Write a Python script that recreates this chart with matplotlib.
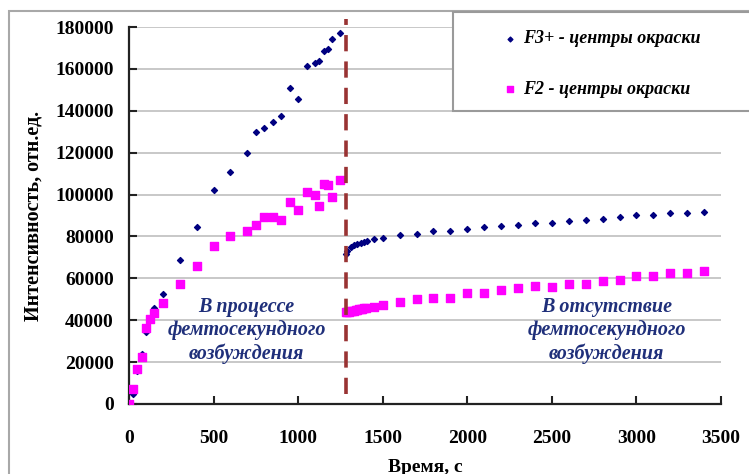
import numpy as np
import matplotlib.pyplot as plt
from matplotlib.patches import Rectangle
from matplotlib.ticker import MultipleLocator

plt.rcParams['font.family'] = ['Liberation Serif', 'DejaVu Serif']

# F3+ центры окраски: во время возбуждения и после
t_f3 = [25, 50, 75, 100, 150, 200, 300, 400, 500, 600, 700, 750, 800, 850, 900,
        950, 1000, 1050, 1100, 1125, 1150, 1175, 1200, 1250,
        1280, 1290, 1310, 1330, 1350, 1370, 1390, 1410, 1450, 1500,
        1600, 1700, 1800, 1900, 2000, 2100, 2200, 2300, 2400, 2500,
        2600, 2700, 2800, 2900, 3000, 3100, 3200, 3300, 3400]
i_f3 = [4650, 15600, 23800, 34200, 46000, 52400, 68600, 84500, 102000, 110800,
        119800, 130100, 132000, 134800, 137500, 151000, 145500, 161300, 162900,
        163700, 168500, 169300, 174400, 177000,
        71800, 73000, 75100, 75900, 76600, 77100, 77400, 77800, 78700, 79300,
        80700, 81400, 82400, 82600, 83600, 84400, 85000, 85700, 86200, 86500,
        87300, 87800, 88400, 89200, 90200, 90200, 91000, 91300, 91600]

# F2 центры окраски
t_f2 = [0, 25, 50, 75, 100, 125, 150, 200, 300, 400, 500, 600, 700, 750, 800,
        850, 900, 950, 1000, 1050, 1100, 1125, 1150, 1175, 1200, 1250,
        1280, 1290, 1300, 1310, 1320, 1330, 1340, 1350, 1360, 1370, 1380, 1390,
        1400, 1450, 1500,
        1600, 1700, 1800, 1900, 2000, 2100, 2200, 2300, 2400, 2500,
        2600, 2700, 2800, 2900, 3000, 3100, 3200, 3300, 3400]
i_f2 = [0, 7000, 16800, 22500, 36100, 40600, 43300, 48300, 57200, 65700, 75600,
        80300, 82800, 85700, 89200, 89200, 87800, 96400, 92400, 101300, 99800,
        94500, 105200, 104600, 99000, 106800,
        43800, 43900, 44000, 44200, 44400, 44600, 44800, 45000, 45200, 45400,
        45500, 45700, 45900, 46400, 47400,
        48600, 49900, 50800, 50800, 52800, 52800, 54500, 55300, 56300, 55800,
        57400, 57400, 58700, 59200, 61200, 60900, 62500, 62500, 63300]

t_switch = 1280  # момент выключения лазера

fig = plt.figure(figsize=(7.49, 4.74), dpi=100)
ax = fig.add_axes([129 / 749, 1 - 404 / 474, (721 - 129) / 749, (404 - 27) / 474])

ax.scatter(t_f3, i_f3, marker='D', s=9, color='#000080', zorder=3,
           label='F3+ - центры окраски')
ax.scatter(t_f2, i_f2, marker='s', s=30, color='#FF00FF', zorder=3,
           label='F2 - центры окраски')

ax.plot([t_switch, t_switch], [5000, 184000], color='#993333', lw=2.6,
        dashes=(4.5, 2.8), clip_on=False, zorder=4)

ax.set_xlim(0, 3500)
ax.set_ylim(0, 180000)
ax.xaxis.set_major_locator(MultipleLocator(500))
ax.yaxis.set_major_locator(MultipleLocator(20000))
ax.grid(axis='y', color='#C8C8C8', lw=1.4)
ax.set_axisbelow(True)
for s in ['top', 'right']:
    ax.spines[s].set_visible(False)
for s in ['left', 'bottom']:
    ax.spines[s].set_linewidth(1.6)
    ax.spines[s].set_color('#222222')
ax.tick_params(direction='in', length=6, width=1.5, color='#222222',
               labelsize=14)
ax.tick_params(axis='y', pad=11)
ax.tick_params(axis='x', pad=19)
for lab in ax.get_xticklabels() + ax.get_yticklabels():
    lab.set_fontweight('bold')

ax.set_xlabel('Время, с', fontsize=14, fontweight='bold')
ax.set_ylabel('Интенсивность, отн.ед.', fontsize=14.5, fontweight='bold')
ax.xaxis.set_label_coords(0.5, -0.145)
ax.yaxis.set_label_coords(-0.144, 0.5)

txt = dict(fontsize=14.5, fontweight='bold', style='italic', color='#1F2F7A',
           ha='center', va='center', linespacing=1.2)
ax.text(695, 35000, 'В процессе\nфемтосекундного\nвозбуждения', **txt)
ax.text(2825, 35000, 'В отсутствие\nфемтосекундного\nвозбуждения', **txt)

# рамка диаграммы и легенды
fig.patches.append(Rectangle((9 / 749, -0.1), 1.0, 1 - 11 / 474 + 0.1,
                             transform=fig.transFigure, fill=False,
                             edgecolor='#A8A8A8', lw=1.5))
fig.patches.append(Rectangle((453 / 749, 1 - 111 / 474), 0.5, 99 / 474,
                             transform=fig.transFigure, facecolor='white',
                             edgecolor='#9A9A9A', lw=1.5, zorder=5))
leg = fig.legend(loc='upper left', bbox_to_anchor=(483 / 749, 1 - 14 / 474),
                 frameon=False, prop=dict(size=13, weight='bold', style='italic'),
                 labelspacing=1.85, handletextpad=0.1, handlelength=1.2,
                 markerscale=0.8)
leg.set_zorder(6)

fig.savefig('out.png', dpi=100)
